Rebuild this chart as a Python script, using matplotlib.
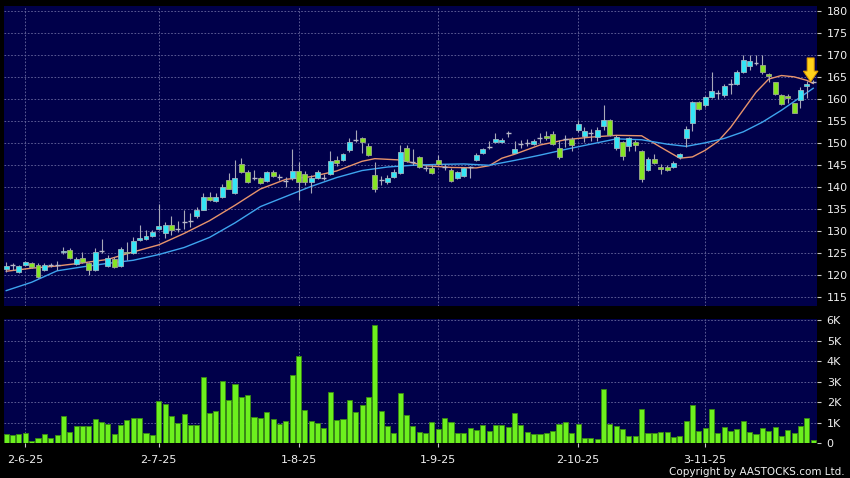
import numpy as np
import matplotlib.pyplot as plt
from matplotlib.patches import FancyArrow

# daily OHLC (128 sessions)
opens = [121.4, 122.3, 120.6, 122.2, 122.7, 122.2, 121.2, 122.3, 122.2, 125.15,
         125.6, 122.4, 123.9, 122.6, 121.1, 125.4, 122.0, 123.5, 122.1, 125.2,
         125.0, 127.9, 128.2, 128.9, 130.5, 129.4, 131.4, 130.3, 132.1, 132.2,
         133.3, 134.8, 137.7, 136.8, 137.7, 141.5, 138.5, 145.1, 143.4, 141.9,
         141.9, 141.4, 143.4, 142.3, 141.3, 142.1, 143.6, 142.9, 141.0, 142.1,
         142.1, 143.0, 146.1, 146.1, 148.3, 150.6, 151.0, 149.3, 142.7, 141.5,
         141.0, 142.3, 143.2, 148.9, 145.7, 146.7, 144.2, 144.2, 146.1, 144.5,
         143.9, 141.9, 142.4, 144.5, 146.1, 147.7, 149.1, 150.1, 150.3, 152.3,
         147.8, 149.7, 150.0, 149.8, 151.0, 151.5, 152.0, 148.9, 150.9, 150.9,
         153.0, 151.6, 152.2, 151.3, 153.9, 155.2, 148.9, 150.3, 149.2, 150.3,
         148.1, 143.9, 146.4, 144.6, 144.5, 144.5, 146.7, 151.1, 154.5, 159.2,
         158.5, 160.4, 161.3, 160.9, 163.4, 163.4, 166.1, 167.4, 168.2, 167.7,
         165.7, 163.8, 160.8, 160.6, 159.0, 159.8, 162.9, 163.9]
highs = [123.0, 122.7, 122.2, 123.1, 123.0, 122.6, 122.6, 122.7, 123.1, 126.4,
         126.0, 124.1, 125.1, 123.0, 126.0, 128.2, 124.5, 124.0, 126.4, 127.5,
         128.6, 131.3, 130.2, 130.2, 136.1, 132.0, 133.3, 132.3, 134.7, 134.0,
         135.3, 138.5, 138.8, 138.6, 140.7, 143.2, 146.2, 146.5, 143.9, 143.9,
         142.2, 143.7, 143.8, 143.0, 142.3, 148.5, 145.7, 143.5, 142.6, 143.8,
         143.0, 148.2, 146.9, 147.8, 151.0, 153.0, 151.3, 150.0, 145.7, 142.5,
         142.6, 144.0, 149.5, 149.5, 148.7, 147.0, 145.0, 145.0, 147.2, 145.2,
         144.2, 143.6, 144.6, 144.8, 147.6, 148.9, 150.5, 152.3, 151.0, 152.8,
         150.5, 150.6, 150.8, 150.9, 152.3, 152.6, 152.6, 150.7, 151.7, 151.3,
         155.1, 153.5, 153.2, 153.7, 158.5, 155.5, 151.7, 150.5, 151.3, 150.7,
         148.3, 146.8, 147.5, 145.1, 145.0, 145.8, 147.7, 153.9, 159.6, 159.6,
         160.7, 166.1, 161.9, 163.4, 164.6, 166.6, 170.0, 170.0, 170.0, 170.0,
         165.8, 163.9, 161.2, 161.1, 159.0, 162.6, 164.0, 164.3]
lows = [120.7, 121.2, 120.5, 121.9, 121.5, 119.2, 120.8, 121.7, 121.1, 124.7,
        123.7, 122.2, 122.6, 119.9, 120.9, 124.85, 121.8, 121.6, 121.8, 123.3,
        124.8, 127.6, 127.9, 128.6, 130.2, 128.3, 129.1, 129.8, 130.3, 130.9,
        133.0, 134.7, 136.8, 136.6, 137.5, 139.4, 138.3, 143.1, 140.8, 141.5,
        140.6, 141.2, 142.2, 141.6, 140.0, 141.5, 137.1, 140.5, 138.5, 141.8,
        141.5, 142.6, 144.7, 145.8, 147.9, 150.2, 147.7, 147.0, 138.9, 140.3,
        140.7, 142.1, 143.0, 145.7, 145.0, 144.2, 143.5, 142.9, 145.0, 143.8,
        141.2, 141.7, 142.2, 142.0, 145.8, 147.4, 148.5, 150.0, 150.0, 151.3,
        147.6, 148.9, 149.3, 149.5, 149.9, 150.6, 149.5, 146.4, 149.0, 148.1,
        152.4, 150.1, 150.5, 150.5, 152.9, 151.6, 148.3, 146.2, 148.1, 148.1,
        141.0, 143.6, 145.1, 143.0, 143.5, 144.2, 146.4, 149.1, 152.8, 157.4,
        158.1, 160.1, 159.9, 160.5, 161.1, 163.1, 165.9, 166.6, 167.6, 165.7,
        163.8, 160.8, 158.5, 159.0, 156.7, 157.9, 160.3, 163.7]
closes = [122.0, 122.3, 122.0, 122.8, 121.8, 119.4, 122.3, 122.3, 122.2, 125.45,
          123.9, 123.5, 122.9, 121.1, 125.2, 125.4, 123.9, 121.8, 125.9, 124.85,
          127.7, 128.4, 128.8, 129.8, 131.1, 131.4, 130.2, 130.3, 132.1, 132.2,
          134.7, 137.7, 137.0, 137.6, 140.0, 139.6, 142.0, 143.3, 141.1, 141.9,
          140.8, 143.4, 142.5, 142.3, 141.3, 143.6, 141.1, 141.1, 142.0, 143.3,
          142.1, 145.8, 145.5, 147.4, 150.3, 150.6, 150.2, 147.3, 139.6, 141.5,
          142.0, 143.3, 148.0, 145.9, 145.7, 144.4, 144.2, 143.2, 145.1, 144.5,
          141.3, 143.3, 144.3, 144.5, 147.2, 148.5, 149.1, 150.9, 150.7, 152.3,
          148.5, 149.7, 150.0, 150.5, 151.0, 151.1, 149.7, 146.7, 150.9, 149.6,
          154.2, 152.7, 152.2, 153.0, 155.2, 151.7, 151.3, 147.0, 151.1, 149.5,
          141.8, 146.4, 145.4, 144.0, 143.9, 145.5, 147.5, 153.1, 159.2, 157.7,
          160.5, 161.7, 161.3, 162.9, 163.4, 166.1, 168.9, 168.6, 168.2, 166.1,
          165.2, 161.1, 158.9, 160.2, 156.8, 162.0, 163.4, 163.9]

# volume in thousands of shares
volume_k = [0.45, 0.39, 0.44, 0.50, 0.13, 0.26, 0.47, 0.29, 0.41, 1.33,
            0.55, 0.84, 0.84, 0.83, 1.20, 1.05, 0.94, 0.44, 0.89, 1.15,
            1.26, 1.25, 0.53, 0.41, 2.04, 1.94, 1.33, 0.99, 1.44, 0.91,
            0.91, 3.21, 1.46, 1.60, 3.01, 2.11, 2.90, 2.27, 2.35, 1.31,
            1.26, 1.51, 1.17, 0.94, 1.10, 3.32, 4.23, 1.64, 1.10, 1.00,
            0.75, 2.50, 1.12, 1.17, 2.12, 1.54, 1.86, 2.24, 5.74, 1.59,
            0.83, 0.50, 2.46, 1.38, 0.86, 0.58, 0.50, 1.04, 0.70, 1.22,
            1.02, 0.53, 0.52, 0.73, 0.66, 0.89, 0.60, 0.91, 0.88, 0.79,
            1.46, 0.91, 0.55, 0.47, 0.45, 0.52, 0.60, 0.94, 1.02, 0.50,
            0.94, 0.28, 0.28, 0.23, 2.66, 0.94, 0.84, 0.68, 0.37, 0.37,
            1.67, 0.53, 0.49, 0.55, 0.57, 0.32, 0.37, 1.07, 1.88, 0.63,
            0.73, 1.69, 0.49, 0.78, 0.60, 0.68, 1.07, 0.57, 0.45, 0.75,
            0.60, 0.79, 0.37, 0.66, 0.53, 0.83, 1.22, 0.19]

# moving averages read at some sessions
ma_short_idx = [0, 4, 8, 12, 16, 20, 24, 28, 32, 36, 40, 44, 48, 52, 56, 58, 62, 66, 70, 74,
                76, 78, 80, 84, 88, 92, 96, 100, 103, 106, 108, 110, 112, 114, 116, 118, 120, 122, 124, 126, 127]
ma_short = [120.8, 121.5, 122.0, 122.7, 123.5, 125.2, 126.8, 129.4, 132.3, 135.8, 139.5, 141.7, 142.3, 143.6, 145.8, 146.4, 146.1, 144.8, 144.4, 144.3,
            144.8, 146.5, 147.4, 149.5, 150.7, 151.3, 151.7, 151.6, 149.0, 146.5, 146.8, 148.3, 150.3, 153.5, 157.5, 161.5, 164.5, 165.3, 165.0, 164.2, 163.5]
ma_long_idx = [0, 4, 8, 12, 16, 20, 24, 28, 32, 36, 40, 44, 48, 52, 56, 60, 64, 68, 72, 76,
               80, 84, 88, 92, 96, 100, 104, 107, 110, 113, 116, 119, 122, 125, 127]
ma_long = [116.4, 118.3, 120.9, 121.8, 122.6, 123.3, 124.6, 126.2, 128.5, 131.8, 135.5, 137.8, 140.1, 142.1, 143.7, 144.5, 144.9, 145.1, 145.2, 144.9,
           146.0, 147.2, 148.5, 149.7, 150.9, 150.7, 149.7, 149.2, 150.0, 151.0, 152.5, 154.7, 157.4, 160.4, 162.4]

tick_pos = [3, 24, 46, 68, 90, 110]
tick_labels = ['2-6-25', '2-7-25', '1-8-25', '1-9-25', '2-10-25', '3-11-25']

plt.rcParams['font.family'] = 'DejaVu Sans'
navy = '#00004a'
gridc = '#6a6aa0'
txt = '#f0f0f0'

fig = plt.figure(figsize=(8.5, 4.78), dpi=100, facecolor='black')
ax = fig.add_axes([0.0047, 0.3598, 0.9565, 0.6276])
axv = fig.add_axes([0.0047, 0.0722, 0.9565, 0.2598], sharex=ax)

n = len(closes)
x = np.arange(n)
o = np.array(opens); h = np.array(highs); l = np.array(lows); c = np.array(closes)

# moving averages
ax.plot(ma_short_idx, ma_short, color='#e8946c', lw=1.0, zorder=2)
ax.plot(ma_long_idx, ma_long, color='#3ea4ee', lw=1.0, zorder=2)

# candles
ax.vlines(x, l, h, color='#a8a8b8', lw=0.8, zorder=3)
w = 0.78
for i in range(n):
    if abs(c[i] - o[i]) < 0.15:
        ax.hlines(c[i], i - w / 2, i + w / 2, color='#b8b8c8', lw=1.0, zorder=4)
        continue
    up = c[i] > o[i]
    fc = '#34e6f6' if up else '#86e424'
    ec = '#9cb8c0' if up else '#a0a890'
    ax.bar(i, abs(c[i] - o[i]), bottom=min(o[i], c[i]), width=w,
           color=fc, edgecolor=ec, linewidth=0.6, zorder=4)

# marker arrow on the latest session
arr = FancyArrow(126.6, 169.3, 0, -5.4, width=1.1, head_width=2.3, head_length=2.4,
                 length_includes_head=True, facecolor='#ffd21a', edgecolor='#e09a00',
                 lw=0.7, zorder=6, clip_on=False)
ax.add_patch(arr)

ax.set_facecolor(navy)
ax.set_xlim(-0.35, 127.6)
ax.set_ylim(112.9, 181.1)
ax.set_yticks(range(115, 181, 5))
ax.yaxis.tick_right()
ax.tick_params(axis='y', colors='#c8c8c8', labelcolor=txt, length=3, pad=4, labelsize=8)
ax.tick_params(axis='x', bottom=False, labelbottom=False)
ax.grid(True, color=gridc, linestyle=(0, (2, 2)), linewidth=0.6)
ax.set_axisbelow(True)

# volume
axv.bar(x, volume_k, width=0.8, color='#6cf01e', edgecolor='#3a8c12', linewidth=0.6, zorder=3)
axv.set_facecolor(navy)
axv.set_ylim(0, 6.03)
axv.set_yticks(range(0, 7))
axv.set_yticklabels(['0'] + ['%dK' % k for k in range(1, 7)])
axv.yaxis.tick_right()
axv.tick_params(axis='y', colors='#c8c8c8', labelcolor=txt, length=3, pad=4, labelsize=8)
axv.set_xticks(tick_pos)
axv.set_xticklabels(tick_labels)
axv.tick_params(axis='x', colors='#c8c8c8', labelcolor=txt, length=3, pad=5, labelsize=8)
axv.grid(True, color=gridc, linestyle=(0, (2, 2)), linewidth=0.6)
axv.set_axisbelow(True)

for a in (ax, axv):
    for s in a.spines.values():
        s.set_visible(False)

fig.text(0.994, 0.0132, 'Copyright by AASTOCKS.com Ltd.', ha='right', va='center',
         color=txt, fontsize=7.5)

fig.savefig('out.png', dpi=100, facecolor='black')
